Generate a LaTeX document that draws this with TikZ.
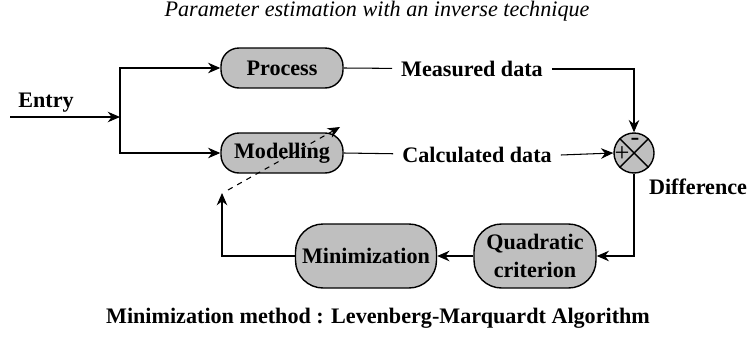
\documentclass[tikz,border=0pt]{standalone}
\usepackage{fontspec}
\setmainfont{Liberation Serif}
\usetikzlibrary{arrows.meta, positioning, calc}

\begin{document}
\begin{tikzpicture}[
    x=0.02cm, y=-0.02cm,
    font=\fontsize{12.6}{15.5}\selectfont\bfseries,
    blockbox/.style={draw, line width=0.8pt, rounded corners=0.36cm, fill=gray!50, align=center, minimum width=2.44cm, minimum height=0.8cm, inner sep=2pt},
    lbl/.style={inner sep=5pt},
    rel/.style={-{Stealth[length=7pt, width=6pt]}, line width=0.6pt},
    wire/.style={line width=0.6pt}
]
\useasboundingbox (0,0) rectangle (749,338);

\node[font=\fontsize{12.6}{14}\selectfont\itshape] (title) at (377,11) {Parameter estimation with an inverse technique};

\node[blockbox] (process) at (282,68) {Process};
\node[blockbox] (model) at (282,153) {Modelling};
\node[blockbox, minimum height=1.28cm, rounded corners=0.55cm] (quad) at (535,256) {Quadratic\\criterion};
\node[blockbox, minimum height=1.28cm, minimum width=2.82cm, rounded corners=0.55cm] (minim) at (366,256) {Minimization};
\node[draw, circle, line width=0.8pt, fill=gray!50, minimum size=0.8cm, inner sep=0pt] (diff) at (634,153) {};
\draw[line width=0.8pt] (diff.north west) -- (diff.south east);
\draw[line width=0.8pt] (diff.north east) -- (diff.south west);
\node[font=\fontsize{15}{15}\selectfont, inner sep=0pt] at ($(diff.center)+(-12,1)$) {+};
\node[font=\fontsize{15}{15}\selectfont, inner sep=0pt] at ($(diff.center)+(1,-11)$) {-};

\node[lbl] (meas) at (472,69) {Measured data};
\node[lbl] (calc) at (477,155) {Calculated data};
\node[inner sep=3pt] (difflbl) at (698,187) {Difference};
\node[inner sep=3pt] (entry) at (46,103) {Entry};
\node (method) at (378,318) {Minimization method : Levenberg-Marquardt Algorithm};

\coordinate (in) at (10,117);
\coordinate (split) at (120,117);
\coordinate (fbtop) at (222,193);
\coordinate (dashstart) at (228,190);
\coordinate (dashend) at (340,127);

% entry and split
\draw[rel] (in) -- (split);
\draw[rel] (split) |- (process.west);
\draw[rel] (split) |- (model.west);

% outputs to comparator
\draw[wire] (process.east) -- (meas);
\draw[rel] (meas.east) -| (diff.north);
\draw[wire] (model.east) -- (calc);
\draw[rel] (calc.east) -- (diff.west);

% feedback loop
\draw[rel] (diff.south) |- (quad.east);
\draw[rel] (quad.west) -- (minim.east);
\draw[rel] (minim.west) -| (fbtop);
\draw[rel, dashed] (dashstart) -- (dashend);
\end{tikzpicture}
\end{document}
